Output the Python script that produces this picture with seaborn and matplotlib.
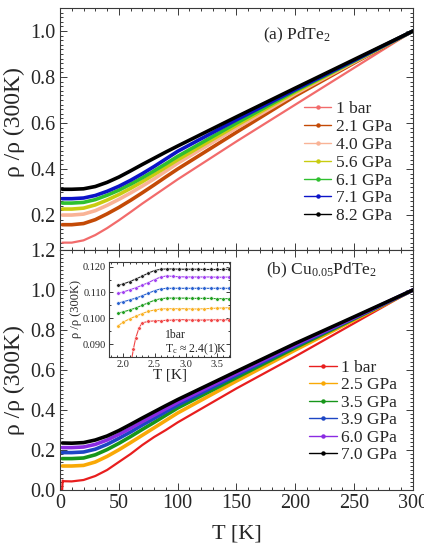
# 압력에 따른 PdTe2 / Cu0.05PdTe2 의 정규화 저항 (rho / rho(300K))
import pandas as pd
import seaborn as sns
import matplotlib.pyplot as plt
from matplotlib.lines import Line2D
from matplotlib.ticker import MultipleLocator, FormatStrFormatter


sns.set_theme(style="ticks")
plt.rcParams["font.family"] = ["Liberation Serif", "DejaVu Serif"]
plt.rcParams["mathtext.fontset"] = "custom"
plt.rcParams["mathtext.rm"] = "Liberation Serif"
plt.rcParams["mathtext.it"] = "Liberation Serif:italic"


# ==================================================
# 데이터
# ==================================================

T = [2, 10, 20, 30, 40, 50, 60, 70, 80, 90, 100, 150, 200, 250, 300]

# (a) PdTe2
pd_labels = ["1 bar", "2.1 GPa", "4.0 GPa", "5.6 GPa", "6.1 GPa", "7.1 GPa", "8.2 GPa"]
pd_colors = ["#f26b6b", "#c44a06", "#f9b396", "#c8cc10", "#2fc02f", "#0c14c8", "#000000"]
pd_1bar = [0.080, 0.080, 0.090, 0.113, 0.143, 0.177, 0.213, 0.250, 0.285, 0.320, 0.355, 0.520, 0.680, 0.840, 1.0]
pd_21 = [0.158, 0.158, 0.163, 0.180, 0.205, 0.233, 0.264, 0.297, 0.331, 0.366, 0.400, 0.560, 0.718, 0.861, 1.0]
pd_40 = [0.200, 0.200, 0.204, 0.219, 0.242, 0.268, 0.296, 0.326, 0.357, 0.391, 0.425, 0.578, 0.727, 0.865, 1.0]
pd_56 = [0.226, 0.226, 0.230, 0.244, 0.265, 0.289, 0.316, 0.345, 0.376, 0.408, 0.440, 0.590, 0.734, 0.868, 1.0]
pd_61 = [0.252, 0.252, 0.255, 0.267, 0.286, 0.308, 0.334, 0.362, 0.392, 0.423, 0.455, 0.600, 0.740, 0.870, 1.0]
pd_71 = [0.271, 0.271, 0.274, 0.285, 0.303, 0.325, 0.351, 0.380, 0.411, 0.444, 0.477, 0.614, 0.745, 0.872, 1.0]
pd_82 = [0.312, 0.312, 0.314, 0.324, 0.342, 0.365, 0.392, 0.420, 0.447, 0.474, 0.500, 0.627, 0.752, 0.876, 1.0]
pd_values = [pd_1bar, pd_21, pd_40, pd_56, pd_61, pd_71, pd_82]

# (b) Cu0.05PdTe2
T_cu_1bar = [1.8, 2.3, 3, 10, 20, 30, 40, 50, 60, 70, 80, 90, 100, 150, 200, 250, 300]
cu_1bar = [0.0, 0.047, 0.044, 0.043, 0.050, 0.070, 0.100, 0.140, 0.180, 0.225, 0.265, 0.300, 0.338, 0.508, 0.668, 0.834, 1.0]
cu_labels = ["1 bar", "2.5 GPa", "3.5 GPa", "3.9 GPa", "6.0 GPa", "7.0 GPa"]
cu_colors = ["#e81e1e", "#f9a906", "#17961a", "#1d46c4", "#8a2be2", "#000000"]
cu_25 = [0.120, 0.120, 0.123, 0.140, 0.168, 0.201, 0.237, 0.274, 0.311, 0.348, 0.385, 0.545, 0.700, 0.850, 1.0]
cu_35 = [0.157, 0.157, 0.160, 0.176, 0.202, 0.233, 0.267, 0.303, 0.338, 0.374, 0.410, 0.562, 0.712, 0.856, 1.0]
cu_39 = [0.187, 0.187, 0.190, 0.204, 0.228, 0.258, 0.290, 0.325, 0.358, 0.392, 0.425, 0.574, 0.720, 0.860, 1.0]
cu_60 = [0.212, 0.212, 0.215, 0.228, 0.250, 0.278, 0.309, 0.342, 0.374, 0.406, 0.438, 0.583, 0.726, 0.862, 1.0]
cu_70 = [0.235, 0.234, 0.237, 0.250, 0.270, 0.297, 0.328, 0.360, 0.391, 0.422, 0.452, 0.593, 0.733, 0.866, 1.0]
cu_values = [cu_25, cu_35, cu_39, cu_60, cu_70]

# inset: 저온 구간 (초전도 전이)
T_in = [1.92, 2.0, 2.1, 2.2, 2.3, 2.4, 2.5, 2.6, 2.7, 2.8, 2.9, 3.0, 3.1, 3.2, 3.3, 3.4, 3.5, 3.6, 3.7]
T_in_red = [2.12, 2.16, 2.2, 2.25, 2.3, 2.4, 2.5, 2.6, 2.7, 2.8, 2.9, 3.0, 3.1, 3.2, 3.3, 3.4, 3.5, 3.6, 3.7]
in_colors = ["#f04646", "#f9b024", "#22a022", "#2a62d0", "#a040f0", "#222222"]
in_red = [0.0820, 0.0880, 0.0925, 0.0962, 0.0982, 0.0988, 0.0990, 0.0991, 0.0992, 0.0993, 0.0995, 0.0994, 0.0993, 0.0993, 0.0993, 0.0994, 0.0994, 0.0994, 0.0994]
in_orange = [0.0972, 0.0985, 0.0998, 0.1008, 0.1018, 0.1027, 0.1032, 0.1036, 0.1037, 0.1037, 0.1037, 0.1037, 0.1036, 0.1036, 0.1037, 0.1038, 0.1039, 0.1040, 0.1041]
in_green = [0.1020, 0.1025, 0.1032, 0.1040, 0.1050, 0.1060, 0.1070, 0.1076, 0.1078, 0.1078, 0.1078, 0.1078, 0.1077, 0.1077, 0.1077, 0.1077, 0.1076, 0.1076, 0.1076]
in_blue = [0.1059, 0.1064, 0.1071, 0.1078, 0.1087, 0.1097, 0.1107, 0.1114, 0.1116, 0.1116, 0.1116, 0.1116, 0.1116, 0.1116, 0.1116, 0.1116, 0.1116, 0.1116, 0.1116]
in_purple = [0.1097, 0.1102, 0.1110, 0.1118, 0.1128, 0.1138, 0.1150, 0.1160, 0.1164, 0.1162, 0.1161, 0.1160, 0.1160, 0.1160, 0.1160, 0.1160, 0.1159, 0.1159, 0.1160]
in_black = [0.1128, 0.1133, 0.1142, 0.1152, 0.1163, 0.1175, 0.1185, 0.1190, 0.1191, 0.1191, 0.1190, 0.1190, 0.1190, 0.1190, 0.1189, 0.1189, 0.1189, 0.1189, 0.1190]
in_values = [in_orange, in_green, in_blue, in_purple, in_black]


# ==================================================
# 그림
# ==================================================

fig = plt.figure(figsize=(4.24, 5.45), dpi=100)
ax_a = fig.add_axes([60 / 424, 1 - 250 / 545, 353 / 424, 242 / 545])
ax_b = fig.add_axes([60 / 424, 1 - 490 / 545, 353 / 424, 240 / 545])
ax_in = fig.add_axes([109 / 424, 1 - 357 / 545, 121 / 424, 95 / 545])


def style_axis(ax, size, major, minor):
    for s in ax.spines.values():
        s.set_color("#3a3a3a")
        s.set_linewidth(0.8)
    ax.tick_params(which="both", direction="in", top=True, right=True,
                   color="#3a3a3a", width=0.7, labelsize=size, pad=3)
    ax.tick_params(which="major", length=major)
    ax.tick_params(which="minor", length=minor)


def legend_handles(colors, labels):
    return [Line2D([0], [0], color=c, lw=1.0, marker="o", markersize=2.2, label=l)
            for c, l in zip(colors, labels)]


# (a) PdTe2
for vals, c in zip(pd_values, pd_colors):
    lw = 1.6 if c == "#f26b6b" else 2.6
    sns.lineplot(x=T, y=vals, color=c, lw=lw, ax=ax_a, sort=False)

ax_a.set_xlim(0, 300)
ax_a.set_ylim(0.048, 1.1)
ax_a.xaxis.set_major_locator(MultipleLocator(50))
ax_a.xaxis.set_minor_locator(MultipleLocator(10))
ax_a.yaxis.set_minor_locator(MultipleLocator(0.02))
ax_a.set_yticks([0.2, 0.4, 0.6, 0.8, 1.0])
ax_a.yaxis.set_major_formatter(FormatStrFormatter("%.1f"))
ax_a.tick_params(labelbottom=False)
style_axis(ax_a, 14.5, 5, 2.5)
ax_a.set_ylabel("ρ /ρ (300K)", fontsize=17)
ax_a.yaxis.set_label_coords(-0.1, 0.53)
ax_a.text(0.67, 0.888, "(a) PdTe$_2$", transform=ax_a.transAxes, ha="center", va="center", fontsize=12.5)
ax_a.legend(handles=legend_handles(pd_colors, pd_labels), loc="lower right",
            bbox_to_anchor=(0.965, 0.07), frameon=False, fontsize=12.5,
            handlelength=1.6, handletextpad=0.25, labelspacing=0.1, borderpad=0)


# (b) Cu0.05PdTe2
sns.lineplot(x=T_cu_1bar, y=cu_1bar, color=cu_colors[0], lw=1.6, ax=ax_b, sort=False)
for vals, c in zip(cu_values, cu_colors[1:]):
    sns.lineplot(x=T, y=vals, color=c, lw=2.6, ax=ax_b, sort=False)

ax_b.set_xlim(0, 300)
ax_b.set_ylim(0, 1.2)
ax_b.xaxis.set_major_locator(MultipleLocator(50))
ax_b.xaxis.set_minor_locator(MultipleLocator(10))
ax_b.yaxis.set_major_locator(MultipleLocator(0.2))
ax_b.yaxis.set_minor_locator(MultipleLocator(0.02))
ax_b.yaxis.set_major_formatter(FormatStrFormatter("%.1f"))
style_axis(ax_b, 14.5, 5, 2.5)
ax_b.set_ylabel("ρ /ρ (300K)", fontsize=17)
ax_b.yaxis.set_label_coords(-0.1, 0.46)
ax_b.set_xlabel("T [K]", fontsize=16, labelpad=8)
ax_b.text(0.742, 0.917, "(b) Cu$_{0.05}$PdTe$_2$", transform=ax_b.transAxes, ha="center", va="center", fontsize=12.5)
ax_b.legend(handles=legend_handles(cu_colors, cu_labels), loc="lower right",
            bbox_to_anchor=(0.98, 0.075), frameon=False, fontsize=12.5,
            handlelength=1.6, handletextpad=0.25, labelspacing=0.08, borderpad=0)


# inset
ax_in.set_zorder(5)
ax_in.set_facecolor("white")
sns.lineplot(x=T_in_red, y=in_red, color=in_colors[0], lw=0.8, marker="o",
             markersize=2.6, markeredgewidth=0.4, ax=ax_in, sort=False)
for vals, c in zip(in_values, in_colors[1:]):
    sns.lineplot(x=T_in, y=vals, color=c, lw=0.8, marker="o",
                 markersize=2.6, markeredgewidth=0.4, ax=ax_in, sort=False)

ax_in.set_xlim(1.77, 3.71)
ax_in.set_ylim(0.085, 0.1218)
ax_in.set_xticks([2.0, 2.5, 3.0, 3.5])
ax_in.set_yticks([0.090, 0.100, 0.110, 0.120])
ax_in.xaxis.set_minor_locator(MultipleLocator(0.1))
ax_in.yaxis.set_minor_locator(MultipleLocator(0.005))
ax_in.xaxis.set_major_formatter(FormatStrFormatter("%.1f"))
ax_in.yaxis.set_major_formatter(FormatStrFormatter("%.3f"))
style_axis(ax_in, 7.5, 3, 1.5)
ax_in.tick_params(pad=2)
ax_in.set_xlabel("T [K]", fontsize=11, labelpad=0)
ax_in.set_ylabel("ρ /ρ (300K)", fontsize=9, labelpad=1)
ax_in.text(0.46, 0.2, "1bar", transform=ax_in.transAxes, fontsize=8.5)
ax_in.text(0.46, 0.05, "T$_\\mathrm{c}$ ≈ 2.4(1)K", transform=ax_in.transAxes, fontsize=8.5)


plt.savefig("out.png", dpi=100)
plt.close()
